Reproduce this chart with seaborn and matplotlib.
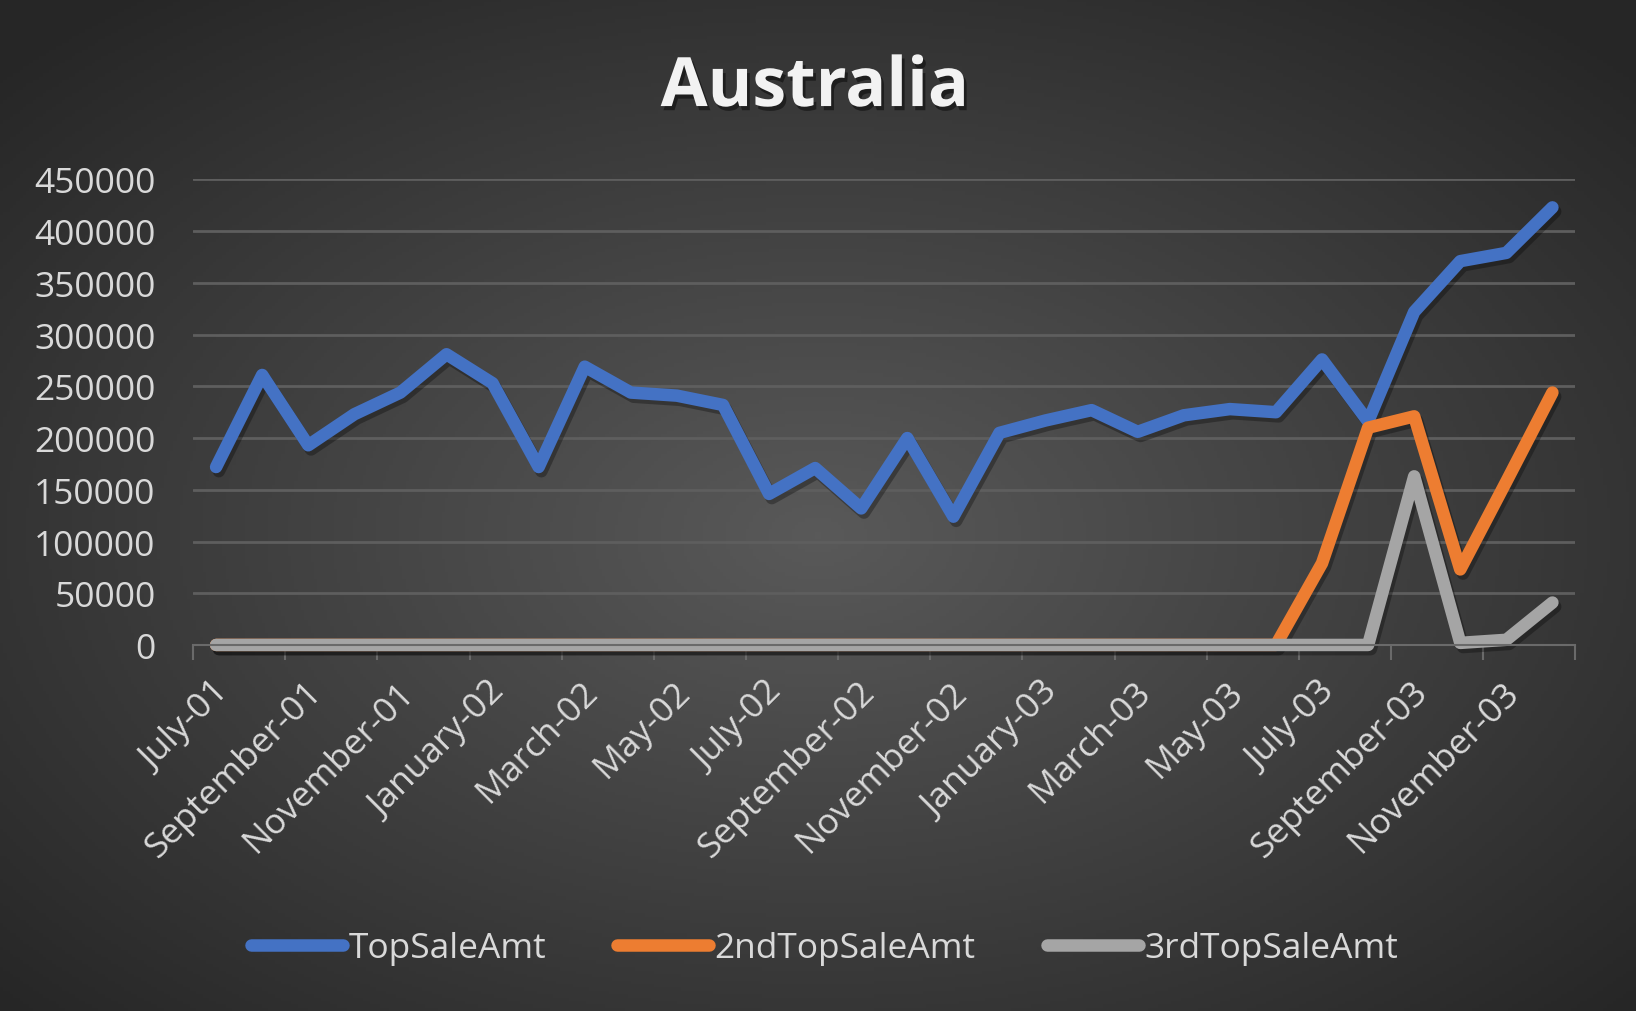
import numpy as np
import pandas as pd
import matplotlib
matplotlib.use("Agg")
import matplotlib.pyplot as plt
import matplotlib.patheffects as pe
import matplotlib.transforms as mtransforms
from matplotlib.ticker import FixedLocator
import seaborn as sns

months = ["July-01", "August-01", "September-01", "October-01", "November-01", "December-01",
          "January-02", "February-02", "March-02", "April-02", "May-02", "June-02",
          "July-02", "August-02", "September-02", "October-02", "November-02", "December-02",
          "January-03", "February-03", "March-03", "April-03", "May-03", "June-03",
          "July-03", "August-03", "September-03", "October-03", "November-03", "December-03"]

top_sale = [172000, 261000, 193000, 223000, 244000, 281000, 253000, 172000, 269000, 244000,
            241000, 232000, 146000, 171000, 132000, 200000, 124000, 205000, 217000, 227000,
            206000, 222000, 228000, 225000, 276000, 216000, 322000, 371000, 379000, 423000]
second_sale = [0] * 23 + [0, 79000, 210000, 221000, 73000, 158000, 244000]
third_sale = [0] * 26 + [163000, 2000, 5000, 41000]

series = ["TopSaleAmt", "2ndTopSaleAmt", "3rdTopSaleAmt"]
colors = ["#4472C4", "#ED7D31", "#A5A5A5"]

df = pd.DataFrame({"idx": np.arange(len(months)), "month": months,
                   "TopSaleAmt": top_sale, "2ndTopSaleAmt": second_sale, "3rdTopSaleAmt": third_sale})

sns.set_theme(style="dark")
plt.rcParams["font.family"] = ["Open Sans", "DejaVu Sans"]

fig = plt.figure(figsize=(16.36, 10.12), dpi=100)

# radial dark gradient background
bg = fig.add_axes([0, 0, 1, 1], zorder=-10)
yy, xx = np.mgrid[0:1:300j, 0:1:500j]
r = np.sqrt(((xx - 0.5) / 0.75) ** 2 + ((yy - 0.47) / 0.75) ** 2)
shade = np.clip(0.35 - 0.22 * r, 0.15, 0.4)
bg.imshow(np.dstack([shade] * 3), aspect="auto", extent=[0, 1, 0, 1], origin="lower")
bg.axis("off")

ax = fig.add_axes([0.118, 0.3617, 0.845, 0.46])
ax.set_facecolor("none")

shadow = [pe.SimpleLineShadow(offset=(2, -3), shadow_color="black", alpha=0.3), pe.Normal()]
for name, col in zip(series, colors):
    sns.lineplot(data=df, x="idx", y=name, ax=ax, color=col, linewidth=9, label=name,
                 solid_capstyle="round", solid_joinstyle="round", clip_on=False)
for line in ax.lines:
    line.set_path_effects(shadow)

ax.set_xlim(-0.5, len(months) - 0.5)
ax.set_ylim(0, 450000)
ax.set_yticks(np.arange(0, 450001, 50000))
ax.set_yticklabels([str(v) for v in range(0, 450001, 50000)])
ax.set_xticks(np.arange(0, len(months), 2))
ax.set_xticklabels(months[::2], rotation=45, ha="right", va="center", rotation_mode="anchor")
ax.xaxis.set_minor_locator(FixedLocator(np.arange(-0.5, len(months), 2)))
ax.tick_params(axis="x", which="major", length=0, pad=30, labelsize=25.5, labelcolor="#d9d9d9")
ax.tick_params(axis="x", which="minor", length=11, width=1.5, color="#6a6a6a", direction="out", bottom=True)
ax.tick_params(axis="y", length=0, pad=27, labelsize=25.5, labelcolor="#d9d9d9")
shift = mtransforms.ScaledTranslation(0.08, 0, fig.dpi_scale_trans)
for lbl in ax.get_xticklabels():
    lbl.set_transform(lbl.get_transform() + shift)
ax.set_xlabel("")
ax.set_ylabel("")

ax.grid(axis="y", color="#5e5e5e", linewidth=2)
ax.grid(axis="x", visible=False)
for side in ["top", "right", "left"]:
    ax.spines[side].set_visible(False)
ax.spines["bottom"].set_color("#6a6a6a")
ax.spines["bottom"].set_linewidth(1.5)
ax.set_axisbelow(True)

handles, labels = ax.get_legend_handles_labels()
ax.get_legend().remove()
leg = fig.legend(handles, labels, loc="center", bbox_to_anchor=(0.504, 0.062), ncol=3, frameon=False,
                 fontsize=25.5, handlelength=2.6, handletextpad=0.15, columnspacing=2.0)
for t in leg.get_texts():
    t.set_color("#d9d9d9")
for h in leg.legend_handles:
    h.set_path_effects([])
    h.set_solid_capstyle("round")

fig.text(0.498, 0.912, "Australia", ha="center", va="center", fontsize=49, fontweight="bold",
         color="#f2f2f2",
         path_effects=[pe.withSimplePatchShadow(offset=(2, -3), shadow_rgbFace="black", alpha=0.45)])

fig.savefig("out.png", dpi=100)
